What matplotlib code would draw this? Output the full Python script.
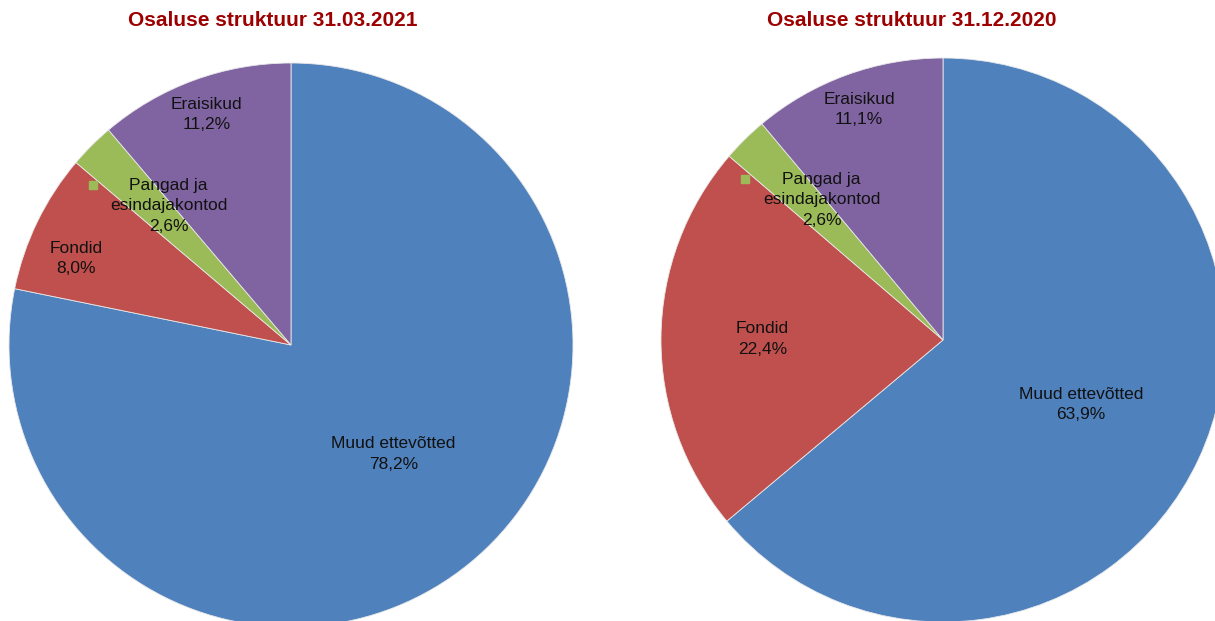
import numpy as np
import matplotlib.pyplot as plt

plt.rcParams['font.family'] = ['Liberation Sans', 'DejaVu Sans']

categories = ['Muud ettevõtted', 'Fondid', 'Pangad ja\nesindajakontod', 'Eraisikud']
share_2021 = [78.2, 8.0, 2.6, 11.2]
share_2020 = [63.9, 22.4, 2.6, 11.1]
titles = ['Osaluse struktuur 31.03.2021', 'Osaluse struktuur 31.12.2020']
colors = ['#4F81BD', '#C0504D', '#9BBB59', '#8064A2']

W, H = 1215, 621
fig = plt.figure(figsize=(W / 100, H / 100), dpi=100)

# pie centres / radius in pixels, label distance and angle shift per slice
pies = [
    dict(vals=share_2021, cx=291, cy=345, r=282, title=titles[0], tx=273,
         dist=[0.53, 0.82, 0.67, 0.87], shift=[4, 4, 0, 0]),
    dict(vals=share_2020, cx=943, cy=340, r=282, title=titles[1], tx=912,
         dist=[0.54, 0.64, 0.67, 0.87], shift=[0, 0, 0, 0]),
]

for p in pies:
    left = (p['cx'] - p['r']) / W
    bottom = (H - p['cy'] - p['r']) / H
    ax = fig.add_axes([left, bottom, 2 * p['r'] / W, 2 * p['r'] / H])
    wedges, _ = ax.pie(p['vals'], colors=colors, startangle=90, counterclock=False,
                       radius=1, wedgeprops=dict(edgecolor='#e8e8e8', linewidth=0.6))
    ax.set_xlim(-1, 1)
    ax.set_ylim(-1, 1)
    ax.axis('off')
    for i, w in enumerate(wedges):
        ang = np.deg2rad((w.theta1 + w.theta2) / 2 + p['shift'][i])
        d = p['dist'][i]
        x, y = d * np.cos(ang), d * np.sin(ang)
        if i == 2:
            x, y = x + 0.04, y + 0.02
            ax.plot(x - 0.27, y + 0.075, marker='s', ms=6, color=colors[2],
                    linestyle='none')
        val = f"{p['vals'][i]:.1f}%".replace('.', ',')
        ax.text(x, y, f"{categories[i]}\n{val}", ha='center', va='center',
                fontsize=12.5, color='#111111', linespacing=1.45)
    fig.text(p['tx'] / W, 1 - 21 / H, p['title'], ha='center', va='center',
             fontsize=15, fontweight='bold', color='#9C0000')

fig.savefig('out.png', dpi=100)
